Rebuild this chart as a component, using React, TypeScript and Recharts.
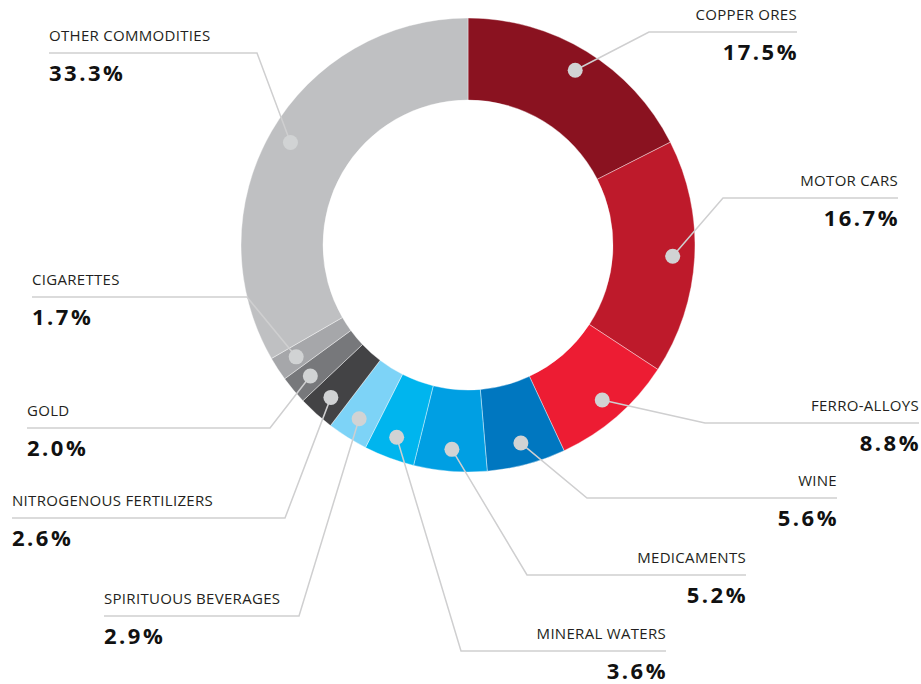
import React from "react";
import { Cell, Pie, PieChart } from "recharts";

const categories = [
  "COPPER ORES",
  "MOTOR CARS",
  "FERRO-ALLOYS",
  "WINE",
  "MEDICAMENTS",
  "MINERAL WATERS",
  "SPIRITUOUS BEVERAGES",
  "NITROGENOUS FERTILIZERS",
  "GOLD",
  "CIGARETTES",
  "OTHER COMMODITIES",
];

const shares = [17.5, 16.7, 8.8, 5.6, 5.2, 3.6, 2.9, 2.6, 2.0, 1.7, 33.3];

const colors = [
  "#8A1220",
  "#BE1A2B",
  "#ED1C33",
  "#0077C0",
  "#009FE3",
  "#00B5EE",
  "#7DD3F7",
  "#434345",
  "#77787B",
  "#A6A7AA",
  "#BFC0C2",
];

// leader line layout: elbow point, far end of the underline, text side
interface LabelLayout {
  ex: number;
  ey: number;
  endX: number;
  side: "left" | "right";
}

const labelLayout: LabelLayout[] = [
  { ex: 649, ey: 32, endX: 797, side: "right" },
  { ex: 723, ey: 198, endX: 898, side: "right" },
  { ex: 705, ey: 423, endX: 919, side: "right" },
  { ex: 587, ey: 498, endX: 837, side: "right" },
  { ex: 527, ey: 575, endX: 746, side: "right" },
  { ex: 461, ey: 651, endX: 666, side: "right" },
  { ex: 299, ey: 616, endX: 104, side: "left" },
  { ex: 285, ey: 518, endX: 12, side: "left" },
  { ex: 270, ey: 428, endX: 27, side: "left" },
  { ex: 247, ey: 297, endX: 32, side: "left" },
  { ex: 257, ey: 53, endX: 49, side: "left" },
];

const data = categories.map((name, i) => ({ name, value: shares[i] }));

const RAD = Math.PI / 180;
const DOT_RADIUS = 205;

const renderLabel = (props: any) => {
  const { cx, cy, midAngle, index } = props;
  const layout = labelLayout[index];
  const dx = cx + DOT_RADIUS * Math.cos(-midAngle * RAD);
  const dy = cy + DOT_RADIUS * Math.sin(-midAngle * RAD);
  const anchor = layout.side === "right" ? "end" : "start";
  const tx = layout.side === "right" ? layout.endX : layout.endX;
  return (
    <g key={`label-${index}`}>
      <polyline
        points={`${dx},${dy} ${layout.ex},${layout.ey} ${layout.endX},${layout.ey}`}
        fill="none"
        stroke="#CFCFD0"
        strokeWidth={1.5}
      />
      <circle cx={dx} cy={dy} r={7.5} fill="#D1D3D4" />
      <text
        x={tx}
        y={layout.ey - 12}
        textAnchor={anchor}
        fontFamily="'Open Sans', sans-serif"
        fontSize={15}
        letterSpacing={0.3}
        fill="#231F20"
      >
        {data[index].name}
      </text>
      <text
        x={layout.side === "right" ? tx + 2 : tx}
        y={layout.ey + 28}
        textAnchor={anchor}
        fontFamily="'Open Sans', sans-serif"
        fontSize={22}
        fontWeight={700}
        letterSpacing={2.5}
        fill="#111111"
      >
        {data[index].value.toFixed(1)}%
      </text>
    </g>
  );
};

const App: React.FC = () => {
  return (
    <div style={{ position: "absolute", left: 0, top: 0 }}>
      <PieChart width={921} height={684} margin={{ top: 0, right: 0, bottom: 0, left: 0 }}>
        <Pie
          data={data}
          dataKey="value"
          nameKey="name"
          cx={468}
          cy={245}
          innerRadius={145}
          outerRadius={227}
          startAngle={90}
          endAngle={-270}
          stroke="#FFFFFF"
          strokeWidth={0.4}
          label={renderLabel}
          labelLine={false}
          isAnimationActive={false}
        >
          {data.map((entry, i) => (
            <Cell key={entry.name} fill={colors[i]} />
          ))}
        </Pie>
      </PieChart>
    </div>
  );
};

export default App;
